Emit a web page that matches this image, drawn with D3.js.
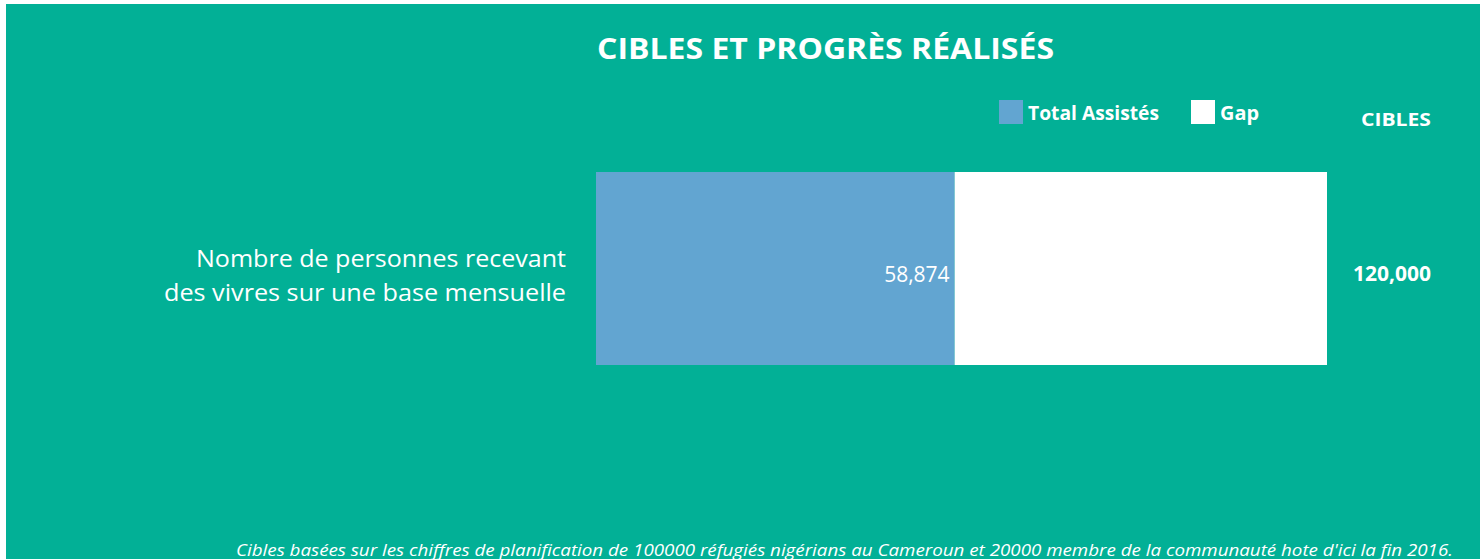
<!DOCTYPE html>
<html><head><meta charset="utf-8">
<script src="https://cdn.jsdelivr.net/npm/d3@7"></script>
<style>
html,body{margin:0;padding:0;background:#fff;overflow:hidden;}
svg{display:block;}
text{font-family:"Open Sans",sans-serif;fill:#fff;}
</style></head><body>
<script>
const categories = ["Nombre de personnes recevant des vivres sur une base mensuelle"];
const categoryLines = [["Nombre de personnes recevant","des vivres sur une base mensuelle"]];
const assisted = [58874];
const targets = [120000];
const seriesNames = ["Total Assistés","Gap"];
const seriesColors = ["#62A5D1","#FFFFFF"];
const title = "CIBLES ET PROGRÈS RÉALISÉS";
const targetHeader = "CIBLES";
const footnote = "Cibles basées sur les chiffres de planification de 100000 réfugiés nigérians au Cameroun et 20000 membre de la communauté hote d'ici la fin 2016.";

const W = 1480, H = 559;
const svg = d3.select("body").append("svg").attr("width", W).attr("height", H);
svg.append("rect").attr("x",6).attr("y",4).attr("width",W-6).attr("height",H-4).attr("fill","#02B096");

// widen text to mimic the wide geometric face of the original
function fit(sel, w){ sel.attr("textLength", w).attr("lengthAdjust","spacingAndGlyphs"); return sel; }

const x = d3.scaleLinear().domain([0, d3.max(targets)]).range([596, 1327]);
const y = d3.scaleBand().domain(categories).range([172, 365]).padding(0);
const fmt = d3.format(",");

fit(svg.append("text").attr("x",597).attr("y",59).attr("font-size",28).attr("font-weight",700).text(title), 457);

// legend
const lg = svg.append("g");
const legendX = [999, 1191];
const legendW = [131, 39];
seriesNames.forEach((n,i)=>{
  lg.append("rect").attr("x",legendX[i]).attr("y",100).attr("width",24).attr("height",24).attr("fill",seriesColors[i]);
  fit(lg.append("text").attr("x",legendX[i]+29).attr("y",120).attr("font-size",19).attr("font-weight",700).text(n), legendW[i]);
});
fit(svg.append("text").attr("x",1361).attr("y",126).attr("font-size",18.5).attr("font-weight",700).text(targetHeader), 70);

categories.forEach((c,i)=>{
  const yy = y(c), h = y.bandwidth();
  svg.append("rect").attr("x",x(0)).attr("y",yy).attr("width",x(assisted[i])-x(0)).attr("height",h).attr("fill",seriesColors[0]);
  svg.append("rect").attr("x",x(assisted[i])).attr("y",yy).attr("width",x(targets[i])-x(assisted[i])).attr("height",h).attr("fill",seriesColors[1]);
  svg.append("text").attr("x",x(assisted[i])-5).attr("y",yy+h/2+13.5).attr("text-anchor","end").attr("font-size",21).text(fmt(assisted[i]));
  svg.append("text").attr("x",1431).attr("y",yy+h/2+12.5).attr("text-anchor","end").attr("font-size",21).attr("font-weight",700).text(fmt(targets[i]));
  const lineW = [370, 402];
  categoryLines[i].forEach((ln,j)=>{
    fit(svg.append("text").attr("x",566-lineW[j]).attr("y",yy+h/2-1.5+j*34).attr("font-size",23).text(ln), lineW[j]);
  });
});

fit(svg.append("text").attr("x",236).attr("y",556).attr("font-size",17).attr("font-style","italic").text(footnote), 1217);
</script>
</body></html>
